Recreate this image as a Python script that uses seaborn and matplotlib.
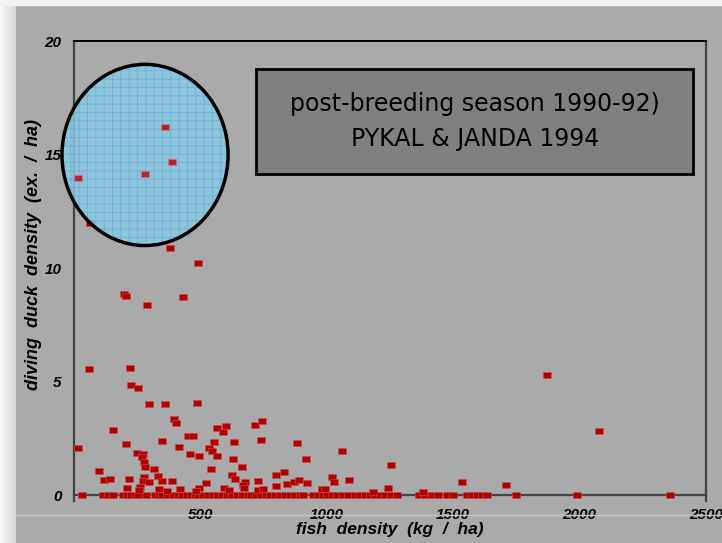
import numpy as np
import matplotlib
matplotlib.use("Agg")
import matplotlib.pyplot as plt
import seaborn as sns
from matplotlib.patches import Ellipse, Rectangle
from matplotlib.lines import Line2D

# fish density (kg/ha) for ponds with zero diving ducks
zero_x = [30, 115, 135, 155, 195, 210, 225, 240, 253, 285, 320, 335, 350, 368,
          392, 410, 428, 447, 462, 478, 490, 510, 530, 550, 565, 585, 605, 625,
          645, 665, 690, 700, 720, 740, 760, 775, 795, 815, 835, 855, 875, 895,
          906, 945, 965, 985, 1000, 1020, 1040, 1064, 1085, 1110, 1130, 1152,
          1171, 1190, 1210, 1230, 1255, 1277, 1365, 1388, 1415, 1438, 1475,
          1498, 1555, 1575, 1595, 1615, 1634, 1748, 1990, 2359]

# ponds with ducks present
fish = [17, 61, 98, 120, 142, 156, 198, 204, 204, 208, 218, 220, 226, 254, 249,
        274, 268, 275, 281, 290, 298, 318, 332, 278, 274, 298, 261, 257, 337,
        369, 419, 348, 348, 361, 388, 397, 402, 414, 432, 452, 469, 459, 490,
        485, 494, 380, 63,
        567, 601, 588, 717, 745, 552, 633, 740, 882, 535, 544, 567, 629, 919,
        542, 665, 625, 637, 522, 678, 728, 799, 829, 799, 844, 870, 891, 923,
        496, 483, 593, 613, 667, 674, 729, 749, 980,
        1062, 1254, 1022, 1030, 1089, 1241, 1181, 1382, 993, 1535, 1709, 1870,
        2075]
ducks = [2.05, 5.55, 1.05, 0.66, 0.7, 2.85, 8.87, 8.77, 2.24, 0.31, 0.7, 5.6,
         4.86, 4.72, 1.84, 1.8, 1.68, 1.46, 1.24, 8.37, 4.02, 1.14, 0.86, 0.78,
         0.63, 0.56, 0.37, 0.22, 0.25, 0.19, 0.28, 2.38, 0.61, 4.02, 0.61, 3.36,
         3.18, 2.13, 8.72, 2.59, 2.59, 1.8, 10.2, 4.06, 1.7, 10.9, 12.0,
         2.94, 3.04, 2.79, 3.08, 3.28, 2.34, 2.34, 2.44, 2.29, 2.05, 1.95, 1.7,
         1.6, 1.58, 1.16, 1.24, 0.9, 0.7, 0.51, 0.56, 0.61, 0.9, 1.0, 0.41,
         0.47, 0.57, 0.66, 0.51, 0.31, 0.19, 0.31, 0.22, 0.44, 0.29, 0.22, 0.28,
         0.25,
         1.93, 1.34, 0.8, 0.56, 0.66, 0.31, 0.13, 0.13, 0.26, 0.56, 0.45, 5.29,
         2.84]

# the high-density group inside the circle
circ_fish = [16, 360, 281, 388]
circ_ducks = [13.96, 16.23, 14.15, 14.69]

all_x = zero_x + fish
all_y = [0] * len(zero_x) + ducks

x_ticks = [500, 1000, 1500, 2000, 2500]
y_ticks = [0, 5, 10, 15, 20]

sns.set_style("white")
plt.rcParams['font.family'] = ['Liberation Sans', 'DejaVu Sans']
plt.rcParams['hatch.linewidth'] = 0.6
plt.rcParams['text.color'] = 'black'
plt.rcParams['axes.labelcolor'] = 'black'
plt.rcParams['xtick.color'] = 'black'
plt.rcParams['ytick.color'] = 'black'

bg = "#aaaaaa"
fig = plt.figure(figsize=(7.22, 5.43), dpi=100, facecolor=bg)

# light slide edges
edge_ax = fig.add_axes([0, 0, 16 / 722, 1])
grad = np.linspace(0.97, 0.84, 64).reshape(1, -1)
edge_ax.imshow(np.dstack([grad, grad, grad]), aspect="auto")
edge_ax.axis("off")
fig.patches.append(Rectangle((0, 1 - 5 / 543), 1, 5 / 543, transform=fig.transFigure,
                             color="#f2f2f2", zorder=0))
fig.lines.append(Line2D([16 / 722, 1], [28 / 543, 28 / 543], transform=fig.transFigure,
                        color="#c4c4c4", lw=1))

ax = fig.add_axes([74 / 722, 42.3 / 543, 632 / 722, 459.7 / 543])
ax.set_facecolor(bg)

rect = [(-1.6, -1), (1.6, -1), (1.6, 1), (-1.6, 1), (-1.6, -1)]
sns.scatterplot(x=all_x, y=all_y, marker=rect, s=36, color="#b00000",
                edgecolor="#c85050", linewidth=0.4, ax=ax, zorder=3, clip_on=False)

ax.set_xlim(0, 2500)
ax.set_ylim(-0.25, 20)
ax.set_xticks(x_ticks)
ax.set_yticks(y_ticks)
ax.spines['bottom'].set_position(('data', 0))
for s in ['left', 'bottom', 'right']:
    ax.spines[s].set_color("#444444")
    ax.spines[s].set_linewidth(1.6)
ax.spines['top'].set_color("black")
ax.spines['top'].set_linewidth(1.4)
ax.tick_params(axis='both', direction='out', length=7, width=1.2, color="#333333",
               labelcolor="black", labelsize=11, pad=2)
for lab in ax.get_xticklabels() + ax.get_yticklabels():
    lab.set_fontweight("bold")
    lab.set_fontstyle("italic")

ax.set_xlabel("fish  density  (kg  /  ha)", fontsize=12.5, fontweight="bold",
              fontstyle="italic", labelpad=0, color="black")
ax.set_ylabel("diving  duck  density  (ex.  /  ha)", fontsize=13, fontweight="bold",
              fontstyle="italic", color="black")
ax.yaxis.set_label_coords(-0.05, 0.535)

# highlighted group
ell = Ellipse((281, 14.98), 657, 7.98, facecolor="#8ccbe6", edgecolor="#52b4e2",
              hatch="++", lw=0, alpha=0.8, zorder=4, clip_on=False)
ax.add_patch(ell)
sns.scatterplot(x=circ_fish, y=circ_ducks, marker=rect, s=36, color="#a82838",
                edgecolor="#d07080", linewidth=0.8, ax=ax, zorder=4.5, clip_on=False)
ax.add_patch(Ellipse((281, 14.98), 657, 7.98, fill=False, edgecolor="black",
                     lw=2.5, zorder=5, clip_on=False))

# annotation box
box = Rectangle((256 / 722, 1 - 174 / 543), 437 / 722, 105 / 543,
                transform=fig.transFigure, facecolor="#808080", edgecolor="black",
                lw=2, zorder=6)
fig.patches.append(box)
fig.text(475 / 722, 1 - 104 / 543, "post-breeding season 1990-92)", ha="center",
         va="center", fontsize=17, family="DejaVu Sans", color="black", zorder=7)
fig.text(475 / 722, 1 - 139 / 543, "PYKAL & JANDA 1994", ha="center",
         va="center", fontsize=17, family="DejaVu Sans", color="black", zorder=7)

plt.savefig("out.png", dpi=100, facecolor=bg)
plt.close()
